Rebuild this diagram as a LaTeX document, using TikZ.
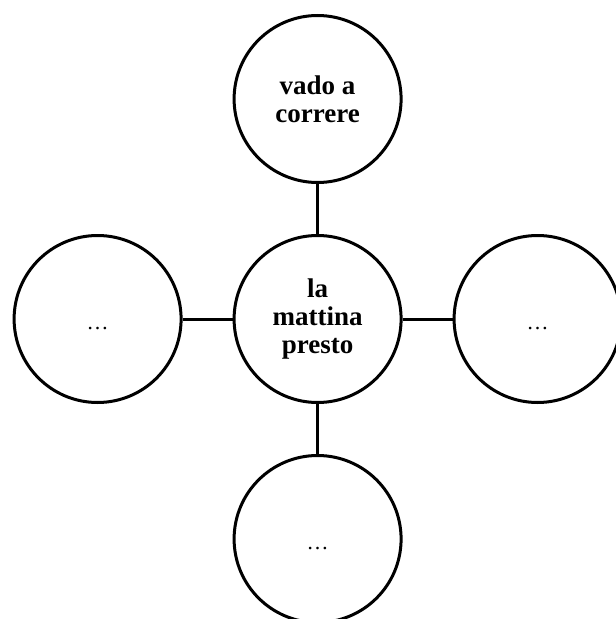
\documentclass[tikz,border=0pt]{standalone}
\usepackage{fontspec}
\setmainfont{Liberation Serif}
\usetikzlibrary{positioning}
\tikzset{
  idea/.style={circle, minimum size=167pt, inner sep=0pt, align=center, draw=black, line width=3pt, font=\fontsize{27}{28}\selectfont\bfseries},
  spoke/.style={circle, minimum size=167pt, inner sep=0pt, text height=20pt, text depth=0pt, draw=black, line width=3pt, font=\fontsize{22}{24}\selectfont},
  link/.style={line width=3pt}
}
\begin{document}
\begin{tikzpicture}[node distance=220pt]
                \useasboundingbox (-317.6pt,319pt) rectangle (298.4pt,-300pt);
                \node (mid) [idea] {la\\mattina\\presto};
                \node (top) [idea, above of=mid] {vado a\\correre};
                \node (left) [spoke, left of=mid] {…};
                \node (right) [spoke, right of=mid] {…};
                \node (bottom) [spoke, below of=mid] {…};

                \draw [link] (mid) -- (top);
                \draw [link] (mid) -- (left);
                \draw [link] (mid) -- (right);
                \draw [link] (mid) -- (bottom);
            \end{tikzpicture}
\end{document}
